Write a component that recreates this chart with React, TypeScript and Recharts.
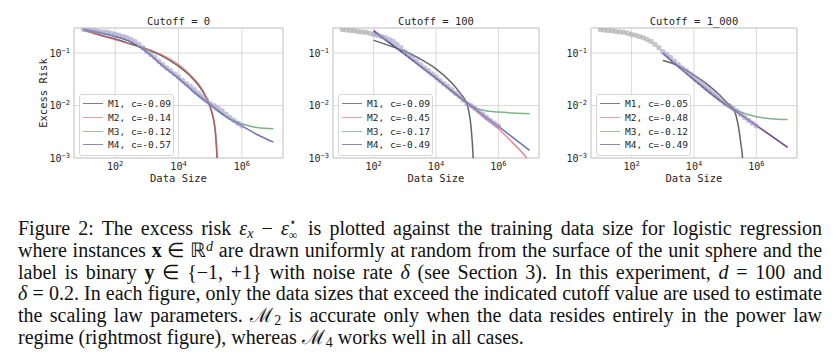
import React from 'react'
import {
  ComposedChart,
  Line,
  Scatter,
  XAxis,
  YAxis,
  CartesianGrid,
  Legend,
  ReferenceArea
} from 'recharts'

type Pt = [number, number]

// measured excess risk vs data size (same run in every panel)
const sizes = [
  10, 13.3, 17.8, 23.7, 31.6, 42.2, 56.2, 75, 100, 133, 178, 237, 316, 422, 562, 750,
  1000, 1334, 1778, 2371, 3162, 4217, 5623, 7499, 10000, 13335, 17783, 23714, 31623,
  42170, 56234, 74989, 100000, 133352, 177828, 237137, 316228, 421697, 562341, 749894, 1000000
]
const risk = [
  0.28, 0.276, 0.268, 0.266, 0.258, 0.252, 0.25, 0.238, 0.226, 0.218, 0.207, 0.196, 0.182,
  0.166, 0.146, 0.126, 0.106, 0.094, 0.082, 0.07, 0.06, 0.052, 0.046, 0.04, 0.035, 0.03,
  0.026, 0.023, 0.02, 0.0172, 0.0151, 0.0126, 0.0108, 0.0099, 0.0089, 0.0079, 0.0068,
  0.0059, 0.0052, 0.0046, 0.0041
]

const titles = ['Cutoff = 0', 'Cutoff = 100', 'Cutoff = 1_000']
const cutoffs = [0, 100, 1000]
const models = ['M1', 'M2', 'M3', 'M4']
const cValues = [
  [-0.09, -0.14, -0.12, -0.57],
  [-0.09, -0.45, -0.17, -0.49],
  [-0.05, -0.48, -0.12, -0.49]
]
const colors = ['#2a2a2a', '#d65f5f', '#4a9a5a', '#3a3aa0']

// cutoff = 0
const c0M1: Pt[] = [[10, 0.275], [30, 0.225], [100, 0.185], [300, 0.15], [1000, 0.118], [3000, 0.088], [10000, 0.056], [22000, 0.038], [60000, 0.018], [95000, 0.0102], [120000, 0.0064], [140000, 0.0038], [155000, 0.002], [165000, 0.001], [170000, 0.0006]]
const c0M2: Pt[] = [[10, 0.28], [30, 0.22], [100, 0.18], [300, 0.148], [1000, 0.12], [3000, 0.092], [10000, 0.06], [22000, 0.04], [60000, 0.019], [95000, 0.0106], [120000, 0.0068], [140000, 0.0042], [155000, 0.0022], [166000, 0.001], [172000, 0.0006]]
const c0M3: Pt[] = [[10, 0.285], [30, 0.25], [100, 0.21], [300, 0.165], [1000, 0.105], [3000, 0.06], [10000, 0.033], [30000, 0.019], [100000, 0.0108], [200000, 0.0077], [500000, 0.0053], [1000000, 0.0045], [3000000, 0.0038], [10000000, 0.0036]]
const c0M4: Pt[] = [[10, 0.28], [30, 0.245], [100, 0.205], [300, 0.165], [1000, 0.105], [3000, 0.058], [10000, 0.033], [30000, 0.018], [100000, 0.0102], [300000, 0.0062], [1000000, 0.0041], [3000000, 0.0028], [10000000, 0.002]]

// cutoff = 100
const c1M1: Pt[] = [[100, 0.175], [300, 0.14], [1000, 0.108], [3000, 0.078], [10000, 0.05], [30000, 0.028], [60000, 0.017], [100000, 0.0104], [115000, 0.0072], [128000, 0.0048], [138000, 0.003], [148000, 0.0017], [155000, 0.001], [160000, 0.0006]]
const c1M2: Pt[] = [[100, 0.27], [1000, 0.095], [10000, 0.033], [100000, 0.011], [300000, 0.0063], [1000000, 0.0036], [3000000, 0.0019], [8000000, 0.001], [10000000, 0.00082]]
const c1M3: Pt[] = [[100, 0.25], [300, 0.16], [1000, 0.096], [3000, 0.058], [10000, 0.034], [30000, 0.019], [100000, 0.0112], [200000, 0.0088], [500000, 0.0078], [1000000, 0.0075], [3000000, 0.0072], [10000000, 0.007]]
const c1M4: Pt[] = [[100, 0.265], [1000, 0.094], [10000, 0.033], [100000, 0.0112], [1000000, 0.004], [10000000, 0.0014]]

// cutoff = 1_000
const c2M1: Pt[] = [[1000, 0.072], [3000, 0.058], [10000, 0.038], [30000, 0.024], [65000, 0.016], [120000, 0.011], [170000, 0.0091], [220000, 0.0066], [275000, 0.0035], [320000, 0.0018], [355000, 0.0011], [370000, 0.0007]]
const c2M2: Pt[] = [[1000, 0.1], [3000, 0.056], [10000, 0.0305], [100000, 0.0104], [200000, 0.008], [1000000, 0.0041], [10000000, 0.0016]]
const c2M3: Pt[] = [[1000, 0.097], [3000, 0.056], [10000, 0.032], [100000, 0.011], [200000, 0.0084], [500000, 0.0068], [1000000, 0.0061], [3000000, 0.0056], [10000000, 0.0054]]
const c2M4: Pt[] = [[1000, 0.1], [3000, 0.057], [10000, 0.031], [100000, 0.0105], [200000, 0.0081], [1000000, 0.0042], [10000000, 0.0016]]

const curves = [
  [c0M1, c0M2, c0M3, c0M4],
  [c1M1, c1M2, c1M3, c1M4],
  [c2M1, c2M2, c2M3, c2M4]
]

const plotLefts = [74, 333, 591]
const plotWidths = [209, 206, 206]
const ink = '#262626'
const mono = '"DejaVu Sans Mono", monospace'

const XTick = (props: any) => {
  const { x, y, payload } = props
  const exp = Math.round(Math.log10(payload.value))
  return (
    <text x={x} y={y} dy={7.5} textAnchor="middle" fontSize={10} fill={ink}>
      10<tspan dy={-4} fontSize={7}>{exp}</tspan>
    </text>
  )
}

const YTick = (props: any) => {
  const { x, y, payload } = props
  const exp = Math.round(Math.log10(payload.value))
  return (
    <text x={x} y={y} dy={3.6} textAnchor="end" fontSize={10} fill={ink}>
      10<tspan dy={-4} fontSize={7}>{'\u2212' + Math.abs(exp)}</tspan>
    </text>
  )
}

const dot = (fill: string) => (props: any) =>
  <circle cx={props.cx} cy={props.cy} r={2.7} fill={fill} fillOpacity={0.6} />

function LegendBox({ idx }: { idx: number }) {
  return (
    <div style={{
      width: 93, height: 58, border: '1px solid #d6d6d6', borderRadius: 3,
      background: 'rgba(255,255,255,0.85)', paddingTop: 2, boxSizing: 'content-box',
      fontFamily: mono, fontSize: 9.5, color: ink
    }}>
      {models.map((m, i) => (
        <div key={m} style={{ height: 13.7, display: 'flex', alignItems: 'center' }}>
          <div style={{ width: 20, marginLeft: 3, marginRight: 5, borderTop: `1.5px solid ${colors[i]}`, opacity: 0.6 }} />
          <span>{`${m}, c=${cValues[idx][i].toFixed(2)}`}</span>
        </div>
      ))}
    </div>
  )
}

function Panel({ idx }: { idx: number }) {
  const yW = idx === 0 ? 74 : 40
  const left = plotLefts[idx] - yW
  const width = yW + plotWidths[idx] + 4
  const cutoff = cutoffs[idx]
  const pts = sizes.map((s, i) => ({ x: s, y: risk[i] }))
  const unused = pts.filter((p) => p.x < cutoff)
  const used = pts.filter((p) => p.x >= cutoff)
  return (
    <div style={{ position: 'absolute', left, top: 0 }}>
      <ComposedChart width={width} height={200} margin={{ top: 28, right: 4, bottom: 0, left: 0 }}
        style={{ fontFamily: mono }}>
        <ReferenceArea x1={5} x2={2e7} y1={0.001} y2={0.3} fill="none" stroke="#cfcfcf" strokeWidth={1} />
        <CartesianGrid stroke="#d9d9d9" strokeWidth={1} />
        <XAxis type="number" dataKey="x" scale="log" domain={[5, 2e7]} ticks={[100, 10000, 1000000]}
          allowDataOverflow tickLine={false} axisLine={false} tickSize={2} tickMargin={2}
          tick={<XTick />} height={42}
          label={{ value: 'Data Size', position: 'insideBottom', offset: 18, fill: ink, fontSize: 10.5 }} />
        <YAxis type="number" dataKey="y" scale="log" domain={[0.001, 0.3]} ticks={[0.001, 0.01, 0.1]}
          allowDataOverflow tickLine={false} axisLine={false} tickSize={2} tickMargin={2}
          tick={<YTick />} width={yW} />
        <Scatter data={unused} dataKey="y" shape={dot('#a3a3a3')} isAnimationActive={false} />
        <Scatter data={used} dataKey="y" shape={dot('#a098c8')} isAnimationActive={false} />
        {curves[idx].map((c, i) => (
          <Line key={i} data={c.map(([x, y]) => ({ x, y }))} dataKey="y" type="monotone"
            stroke={colors[i]} strokeWidth={1.5} strokeOpacity={0.72} dot={false}
            isAnimationActive={false} />
        ))}
        <Legend layout="vertical" align="center" verticalAlign="middle"
          wrapperStyle={{ left: yW + 5, top: 94, width: 'auto', height: 'auto' }}
          content={() => <LegendBox idx={idx} />} />
      </ComposedChart>
      <div style={{
        position: 'absolute', left: yW, width: plotWidths[idx], top: 13, textAlign: 'center',
        fontFamily: mono, fontSize: 10.5, lineHeight: '16px', color: ink, whiteSpace: 'pre'
      }}>{titles[idx]}</div>
    </div>
  )
}

const line: React.CSSProperties = { textAlign: 'justify', textAlignLast: 'justify', whiteSpace: 'nowrap' }
const sub: React.CSSProperties = { fontSize: '0.7em', verticalAlign: '-0.2em', lineHeight: 0 }
const sup: React.CSSProperties = { fontSize: '0.7em', verticalAlign: '0.45em', lineHeight: 0 }
const stackItem: React.CSSProperties = { position: 'absolute', left: 0, fontSize: 12, lineHeight: '12px' }

export default function App() {
  return (
    <div style={{ position: 'absolute', left: 0, top: 0, width: 833, height: 361, background: '#fff', overflow: 'hidden' }}>
      <div style={{
        position: 'absolute', left: 43, top: 93, transform: 'translate(-50%, -50%) rotate(-90deg)',
        fontFamily: mono, fontSize: 10.5, color: ink, whiteSpace: 'nowrap'
      }}>Excess Risk</div>
      <Panel idx={0} />
      <Panel idx={1} />
      <Panel idx={2} />
      <div style={{
        position: 'absolute', left: 18, top: 215, width: 804, fontFamily: '"Liberation Serif", serif',
        fontSize: 20, lineHeight: '21.8px', color: '#111'
      }}>
        <div style={line}>
          Figure 2: The excess risk <i>ε</i><span style={sub}><i>x</i></span> − <i>ε</i>
          <span style={{ position: 'relative', display: 'inline-block', width: 11, height: 20 }}>
            <span style={{ ...stackItem, top: 1 }}>⋆</span>
            <span style={{ ...stackItem, top: 14 }}>∞</span>
          </span> is plotted against the training data size for logistic regression
        </div>
        <div style={line}>
          where instances <b>x</b> ∈ ℝ<span style={sup}><i>d</i></span> are drawn uniformly at random from the surface of the unit sphere and the
        </div>
        <div style={line}>
          label is binary <b>y</b> ∈ {'{'}−1, +1{'}'} with noise rate <i>δ</i> (see Section 3). In this experiment, <i>d</i> = 100 and
        </div>
        <div style={line}>
          <i>δ</i> = 0.2. In each figure, only the data sizes that exceed the indicated cutoff value are used to estimate
        </div>
        <div style={line}>
          the scaling law parameters. ℳ<span style={{ ...sub, marginLeft: 1 }}>2</span> is accurate only when the data resides entirely in the power law
        </div>
        <div style={{ whiteSpace: 'nowrap' }}>
          regime (rightmost figure), whereas ℳ<span style={{ ...sub, marginLeft: 1 }}>4</span> works well in all cases.
        </div>
      </div>
    </div>
  )
}
